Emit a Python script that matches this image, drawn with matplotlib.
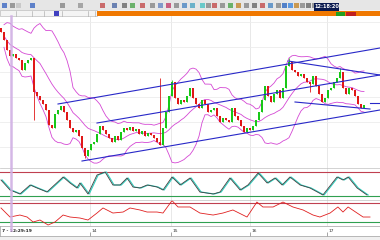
import matplotlib
matplotlib.use("Agg")
import matplotlib.pyplot as plt
import numpy as np
import pandas as pd
from matplotlib.patches import Rectangle
from matplotlib.lines import Line2D

# ---------------- data ----------------
closes = [136, 128, 118, 112, 114, 110, 108, 98, 105, 108, 110, 76, 72, 68, 64, 58, 43, 40, 54, 58,
          62, 56, 48, 40, 36, 38, 32, 20, 12, 18, 24, 26, 34, 42, 38, 34, 30, 26, 32, 28,
          36, 40, 38, 41, 37, 39, 34, 37, 32, 35, 33, 30, 26, 23, 40, 56, 72, 86, 70, 64,
          68, 66, 72, 80, 70, 64, 60, 68, 64, 56, 58, 60, 52, 46, 50, 48, 46, 60, 52, 48,
          42, 36, 40, 38, 42, 48, 56, 68, 82, 72, 66, 74, 78, 70, 80, 102, 106, 98, 96, 92,
          94, 90, 86, 84, 92, 82, 74, 66, 70, 78, 80, 86, 90, 96, 80, 74, 80, 78, 72, 64,
          60, 63]
first_open = 140
spike_highs = {53: 90, 57: 88, 96: 110, 113: 100}
spike_lows = {11: 48, 28: 10, 103: 76}

# trend / channel lines: (candle index, price) anchors
chan_upper = [(19, 64), (126.3, 120)]
chan_mid = [(32, 45), (126.3, 93)]
chan_lower = [(27, 7), (126.3, 58)]
trend_top = [(95.7, 107), (126.3, 93)]
trend_low = [(98, 66), (123, 59)]
trend_flat = [(123, 65), (126.3, 65)]

# oscillator 1 (stochastic-like), x as candle index
osc1_x = [0, 3, 6.3, 9.7, 12, 15.3, 20.7, 23, 25.3, 26.3, 29, 32, 34.7, 37.3, 39.7, 42, 44, 46.3,
          48.7, 52, 54, 57, 59.7, 63, 66.3, 70.7, 73, 76.3, 79.7, 82.3, 85.7, 88.7, 91.3, 93.7,
          96.3, 99.7, 103, 107.3, 112, 114, 115.7, 118.7, 122]
osc1_v = [60, 35, 25, 47.5, 40, 30, 67.5, 52.5, 40, 52.5, 25, 72.5, 80, 47.5, 47.5, 65, 42.5, 40,
          47.5, 42.5, 35, 67.5, 47.5, 65, 30, 25, 30, 65, 35, 47.5, 77.5, 52.5, 65, 47.5,
          67.5, 47.5, 40, 22.5, 67.5, 60, 67.5, 40, 22.5]
# oscillator 2 (RSI-like)
osc2_x = [0, 3, 6.3, 8.7, 10.7, 13, 15.7, 18, 20.7, 23, 26.3, 29, 32, 34, 37.3, 40.7, 43, 46.3,
          48.7, 52, 54, 57, 59, 63, 66.3, 70.7, 74, 77.3, 82, 85.3, 87.3, 90.7, 94, 97.3, 100.7,
          104, 106.3, 109.7, 112.3, 114, 115.7, 118.7, 120.7, 123]
osc2_v = [59.5, 40.5, 44.7, 40.5, 30, 34.2, 23.7, 30, 44.7, 40.5, 38.4, 34.2, 48.9, 59.5, 48.9,
          51, 59.5, 55.3, 51, 51, 48.9, 75, 61.6, 61.6, 48.9, 44.7, 48.9, 55.3, 40.5, 72, 61.6,
          61.6, 72, 61.6, 55.3, 44.7, 40.5, 48.9, 61.6, 51, 61.6, 48.9, 40.5, 40.5]

xtick_pos = [29.7, 56.7, 83, 108.7]
xtick_labels = ["14", "15", "16", "17"]
start_label = "7 - 12:29:19"
clock = "12:18:20"

# ---------------- figure ----------------
W, H = 380, 240
fig = plt.figure(figsize=(W / 100, H / 100), dpi=100)
fig.patch.set_facecolor("#f0f0f0")


def rect(x0, y0, x1, y1):
    return [x0 / W, 1 - y1 / H, (x1 - x0) / W, (y1 - y0) / H]


XL = (-1 / 3, 379 / 3)

# toolbar
fig.add_artist(Rectangle((0, 1 - 10 / H), 1, 10 / H, transform=fig.transFigure,
                         facecolor="#e6e6e6", edgecolor="none"))
icon_cols = ["#3060c0", "#808080", "#c0c0c0", "#3060c0", "#808080", "#909090", "#c04040",
             "#4060a0", "#606060", "#40a040", "#c04040", "#808080", "#6080c0", "#c03060",
             "#808080", "#4080c0", "#40a0c0", "#40c0c0", "#808080", "#c04040", "#808080",
             "#40a040", "#c08020", "#808080", "#606060", "#c04040", "#4080c0", "#808080",
             "#2060c0", "#3080e0", "#c08020", "#808080", "#606060", "#808080", "#808080"]
icon_x = [2, 10, 16, 30, 60, 78, 100, 112, 122, 130, 140, 150, 158, 166, 174, 182, 190,
          200, 206, 212, 220, 228, 236, 244, 252, 260, 268, 276, 282, 288, 294, 300, 306, 312, 320]
for cx, cc in zip(icon_x, icon_cols):
    fig.add_artist(Rectangle((cx / W, 1 - 8 / H), 5 / W, 5 / H, transform=fig.transFigure,
                             facecolor=cc, edgecolor="none", alpha=0.75))
fig.add_artist(Rectangle((314 / W, 1 - 11 / H), 25 / W, 8 / H, transform=fig.transFigure,
                         facecolor="#0a1a50", edgecolor="none"))
fig.text(326.5 / W, 1 - 7 / H, clock, color="white", fontsize=3.6, ha="center", va="center",
         fontweight="bold")

# tab row
fig.add_artist(Rectangle((0, 1 - 16 / H), 97 / W, 6 / H, transform=fig.transFigure,
                         facecolor="#f4f4f4", edgecolor="#b0b0b0", linewidth=0.4))
fig.add_artist(Rectangle((97 / W, 1 - 16 / H), 283 / W, 5 / H, transform=fig.transFigure,
                         facecolor="#f07800", edgecolor="none"))
fig.add_artist(Rectangle((54 / W, 1 - 15.5 / H), 5 / W, 4 / H, transform=fig.transFigure,
                         facecolor="#4040c0", edgecolor="none"))
fig.add_artist(Rectangle((336 / W, 1 - 16 / H), 9 / W, 4 / H, transform=fig.transFigure,
                         facecolor="#20a020", edgecolor="none"))
fig.add_artist(Rectangle((346 / W, 1 - 16 / H), 10 / W, 4 / H, transform=fig.transFigure,
                         facecolor="#c02020", edgecolor="none"))
for tx in [16, 32, 44, 62, 88, 95]:
    fig.add_artist(Line2D([tx / W, tx / W], [1 - 16 / H, 1 - 11 / H], transform=fig.transFigure,
                          color="#a0a0a0", linewidth=0.4))

# ---------------- main price axes ----------------
ax = fig.add_axes(rect(0, 16, 380, 168))
ax.set_facecolor("white")
ax.set_xlim(*XL)
ax.set_ylim(0, 152)
for xv in xtick_pos:
    ax.axvline(xv, color="#e4e4e4", linewidth=0.6, zorder=0)
for yv in [21, 46, 71, 96, 121, 146]:
    ax.axhline(yv, color="#ececec", linewidth=0.6, zorder=0)

c = np.array(closes, dtype=float)
idx = np.arange(len(c))
o = np.concatenate([[first_open], c[:-1]])
hi = np.maximum(o, c)
lo = np.minimum(o, c)
for k, v in spike_highs.items():
    hi[k] = max(hi[k], v)
for k, v in spike_lows.items():
    lo[k] = min(lo[k], v)
up = c >= o
cols = np.where(up, "#18c818", "#e01818")

# Bollinger bands from closes
s = pd.Series(c)
mid = s.rolling(14, min_periods=2).mean()
sd = s.rolling(14, min_periods=2).std()
bcol = "#d448d4"
ax.plot(idx, mid, color=bcol, linewidth=0.6, zorder=2)
ax.plot(idx, mid + 2 * sd, color=bcol, linewidth=0.6, zorder=2)
ax.plot(idx, mid - 2 * sd, color=bcol, linewidth=0.6, zorder=2)

ax.vlines(idx, lo, hi, colors=cols, linewidth=0.6, zorder=3)
body = np.where(np.abs(c - o) < 1, 1, c - o)
ax.bar(idx, body, bottom=o, width=0.55, color=cols, linewidth=0, zorder=3)

for line in [chan_upper, chan_mid, chan_lower, trend_top, trend_low, trend_flat]:
    xs, ys = zip(*line)
    ax.plot(xs, ys, color="#2828c8", linewidth=0.8, zorder=4)

for sp in ax.spines.values():
    sp.set_visible(False)
ax.set_xticks([])
ax.set_yticks([])

# ---------------- oscillator 1 ----------------
ax1 = fig.add_axes(rect(0, 168, 380, 200))
ax1.set_facecolor("white")
ax1.set_xlim(*XL)
ax1.set_ylim(10, 90)
ax1.axhline(80, color="#c04050", linewidth=0.8)
ax1.axhline(20, color="#30a050", linewidth=0.8)
for xv in xtick_pos:
    ax1.axvline(xv, color="#e4e4e4", linewidth=0.6, zorder=0)
ax1.plot(np.array(osc1_x) + 0.4, osc1_v, color="#30d0c0", linewidth=0.8)
ax1.plot(osc1_x, osc1_v, color="#404040", linewidth=0.6)
ax1.set_xticks([])
ax1.set_yticks([])
for sp in ax1.spines.values():
    sp.set_visible(False)
ax1.spines["top"].set_visible(True)
ax1.spines["top"].set_color("#c0c0c0")
ax1.spines["top"].set_linewidth(0.5)

# ---------------- oscillator 2 ----------------
ax2 = fig.add_axes(rect(0, 200, 380, 226))
ax2.set_facecolor("white")
ax2.set_xlim(*XL)
ax2.set_ylim(21.6, 76.3)
ax2.axhline(70, color="#c04050", linewidth=0.8)
ax2.axhline(30, color="#30a050", linewidth=0.8)
for xv in xtick_pos:
    ax2.axvline(xv, color="#e4e4e4", linewidth=0.6, zorder=0)
ax2.plot(osc2_x, osc2_v, color="#e02020", linewidth=0.6)
ax2.set_xticks([])
ax2.set_yticks([])
for sp in ax2.spines.values():
    sp.set_visible(False)
ax2.spines["top"].set_visible(True)
ax2.spines["top"].set_color("#c0c0c0")
ax2.spines["top"].set_linewidth(0.5)

# ---------------- time axis strip ----------------
ax3 = fig.add_axes(rect(0, 226, 380, 236))
ax3.set_facecolor("white")
ax3.set_xlim(*XL)
ax3.set_ylim(0, 1)
ax3.set_yticks([])
ax3.set_xticks(xtick_pos)
ax3.set_xticklabels([])
ax3.tick_params(axis="x", direction="in", length=3, width=0.4, color="#606060", pad=0)
for xv, lab in zip(xtick_pos, xtick_labels):
    ax3.text(xv + 0.5, 0.45, lab, fontsize=3.2, color="#303030", ha="left", va="center")
ax3.text(0.3, 0.45, start_label, fontsize=3.2, color="#202020", ha="left", va="center",
         fontweight="bold")
for sp in ax3.spines.values():
    sp.set_color("#a0a0a0")
    sp.set_linewidth(0.5)

# cursor line (purple)
fig.add_artist(Line2D([11 / W, 11 / W], [1 - 230 / H, 1 - 16 / H], transform=fig.transFigure,
                      color="#d0b0e4", linewidth=1.8, alpha=0.9, zorder=10))

fig.savefig("out.png", dpi=100, facecolor=fig.get_facecolor())
